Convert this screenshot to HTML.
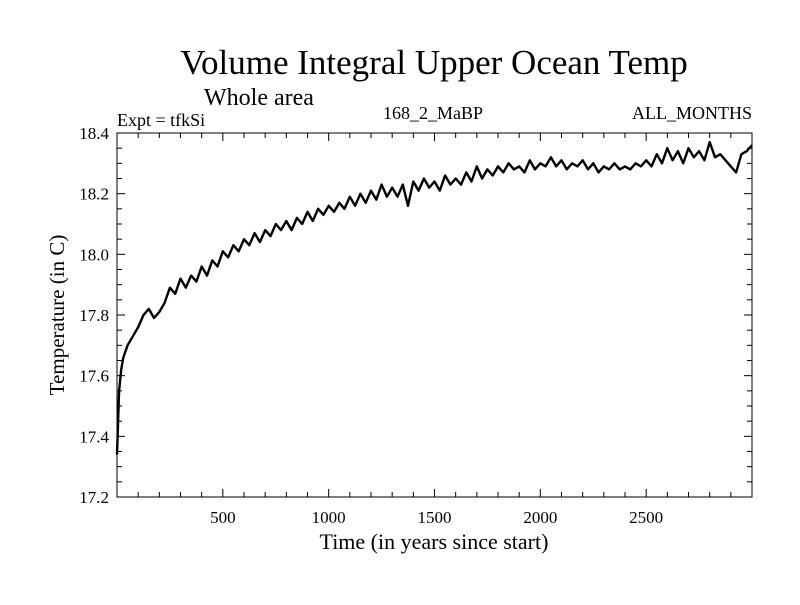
<!DOCTYPE html>
<html><head><meta charset="utf-8"><style>
body{margin:0;background:#fff;}
svg text{font-family:"Liberation Serif",serif;fill:#000;}
</style></head><body>
<svg id="chart" width="800" height="600" xmlns="http://www.w3.org/2000/svg">
<text x="434" y="74" font-size="35" text-anchor="middle">Volume Integral Upper Ocean Temp</text>
<text x="204" y="105" font-size="24">Whole area</text>
<text x="117" y="126" font-size="18">Expt = tfkSi</text>
<text x="433" y="119" font-size="18" text-anchor="middle">168_2_MaBP</text>
<text x="752" y="119" font-size="18" text-anchor="end">ALL_MONTHS</text>
<text transform="translate(64,315) rotate(-90)" font-size="21" text-anchor="middle">Temperature (in C)</text>
<text x="434" y="549" font-size="22" text-anchor="middle">Time (in years since start)</text>
<g id="axes"></g>
<path id="series" fill="none" stroke="#000" stroke-width="2.4" stroke-linejoin="round"/>
</svg>
<script>
const years=[0,5,10,20,30,50,75,100,125,150,175,200,225,250,275,300,325,350,375,400,425,450,475,500,525,550,575,600,625,650,675,700,725,750,775,800,825,850,875,900,925,950,975,1000,1025,1050,1075,1100,1125,1150,1175,1200,1225,1250,1275,1300,1325,1350,1375,1400,1425,1450,1475,1500,1525,1550,1575,1600,1625,1650,1675,1700,1725,1750,1775,1800,1825,1850,1875,1900,1925,1950,1975,2000,2025,2050,2075,2100,2125,2150,2175,2200,2225,2250,2275,2300,2325,2350,2375,2400,2425,2450,2475,2500,2525,2550,2575,2600,2625,2650,2675,2700,2725,2750,2775,2800,2825,2850,2875,2900,2925,2950,2975,3000];
const temps=[17.34,17.45,17.55,17.62,17.66,17.70,17.73,17.76,17.80,17.82,17.79,17.81,17.84,17.89,17.87,17.92,17.89,17.93,17.91,17.96,17.93,17.98,17.96,18.01,17.99,18.03,18.01,18.05,18.03,18.07,18.04,18.08,18.06,18.10,18.08,18.11,18.08,18.12,18.10,18.14,18.11,18.15,18.13,18.16,18.14,18.17,18.15,18.19,18.16,18.20,18.17,18.21,18.18,18.23,18.19,18.22,18.19,18.23,18.16,18.24,18.21,18.25,18.22,18.24,18.21,18.26,18.23,18.25,18.23,18.27,18.24,18.29,18.25,18.28,18.26,18.29,18.27,18.30,18.28,18.29,18.27,18.31,18.28,18.30,18.29,18.32,18.29,18.31,18.28,18.30,18.29,18.31,18.28,18.30,18.27,18.29,18.28,18.30,18.28,18.29,18.28,18.30,18.29,18.31,18.29,18.33,18.30,18.35,18.31,18.34,18.30,18.35,18.32,18.34,18.31,18.37,18.32,18.33,18.31,18.29,18.27,18.33,18.34,18.36,18.31];
const xTicks=[500,1000,1500,2000,2500];
const yTicks=[17.2,17.4,17.6,17.8,18.0,18.2,18.4];
const X0=117,X1=752,Y0=497,Y1=133;
const xs=v=>X0+(v-0)/(3000-0)*(X1-X0);
const ys=v=>Y0-(v-17.2)/(18.4-17.2)*(Y0-Y1);
const NS="http://www.w3.org/2000/svg";
const ax=document.getElementById('axes');
function mk(t,a){const e=document.createElementNS(NS,t);for(const k in a)e.setAttribute(k,a[k]);ax.appendChild(e);return e;}
const frame=mk('rect',{x:X0,y:Y1,width:X1-X0,height:Y0-Y1,fill:'none',stroke:'#000','stroke-width':1});


for(let v=100;v<3000;v+=100){const big=v%500===0,l=big?8:5;
 mk('line',{x1:xs(v),x2:xs(v),y1:Y0,y2:Y0-l,stroke:'#000'});
 mk('line',{x1:xs(v),x2:xs(v),y1:Y1,y2:Y1+l,stroke:'#000'});}
for(let i=1;i<24;i++){const v=17.2+i*0.05,big=i%4===0,l=big?8:5;
 mk('line',{x1:X0,x2:X0+l,y1:ys(v),y2:ys(v),stroke:'#000'});
 mk('line',{x1:X1,x2:X1-l,y1:ys(v),y2:ys(v),stroke:'#000'});}
xTicks.forEach(v=>{const t=mk('text',{x:xs(v),y:Y0+26,'font-size':17,'text-anchor':'middle'});t.textContent=v;
 
 });
yTicks.forEach(v=>{const t=mk('text',{x:X0-8,y:ys(v)+6,'font-size':17,'text-anchor':'end'});t.textContent=v.toFixed(1);
 
 });
document.getElementById('series').setAttribute('d',years.map((y,i)=>(i?'L':'M')+xs(y).toFixed(1)+','+ys(temps[i]).toFixed(1)).join(''));
</script>
</body></html>
